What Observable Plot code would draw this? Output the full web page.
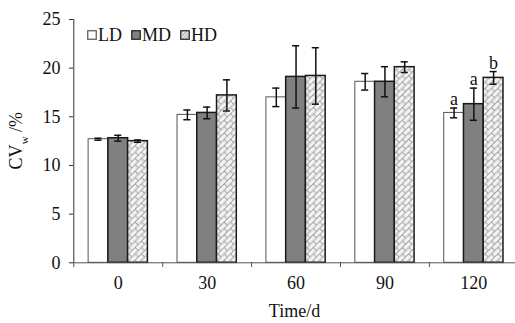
<!DOCTYPE html>
<html><head><meta charset="utf-8">
<script src="https://cdn.jsdelivr.net/npm/d3@7"></script>
<script src="https://cdn.jsdelivr.net/npm/@observablehq/plot@0.6"></script>
<style>
body{margin:0;background:#fff;}
#wrap{position:relative;width:515px;height:323px;font-family:"Liberation Serif","Times New Roman",serif;}
#wrap svg text{font-family:"Liberation Serif","Times New Roman",serif;}
#legend{position:absolute;left:87px;top:24px;display:flex;align-items:center;font-size:18px;color:#111;line-height:22px;}
#legend .item{display:flex;align-items:center;margin-right:9px;}
#legend svg{display:block;margin-right:1px;}
</style></head><body><div id="wrap"></div>
<script>
// ---- data ----
const times = [0, 30, 60, 90, 120];
const groups = ["LD", "MD", "HD"];
const ldMean = [12.7, 15.2, 17.0, 18.6, 15.4];
const ldErr  = [0.1, 0.5, 0.95, 0.85, 0.5];
const mdMean = [12.8, 15.4, 19.1, 18.6, 16.3];
const mdErr  = [0.3, 0.6, 3.2, 1.55, 1.65];
const hdMean = [12.5, 17.2, 19.2, 20.1, 19.0];
const hdErr  = [0.12, 1.6, 2.9, 0.55, 0.65];
const letters120 = ["a", "a", "b"];
const yTicks = [0, 5, 10, 15, 20, 25];

const means = [ldMean, mdMean, hdMean];
const errs = [ldErr, mdErr, hdErr];
const rows = [];
groups.forEach((g, gi) => times.forEach((t, ti) => rows.push({
  time: t, group: g, gi, mean: means[gi][ti], err: errs[gi][ti],
  letter: t === 120 ? letters120[gi] : ""
})));

const groupSpan = 20;               // days covered by one group of bars
const barW = groupSpan / groups.length;
const xc = d => d.time + (d.gi - (groups.length - 1) / 2) * barW;

const NS = "http://www.w3.org/2000/svg";
const defs = () => {
  const d = document.createElementNS(NS, "defs");
  d.innerHTML = `<pattern id="hdPat" patternUnits="userSpaceOnUse" width="9" height="9" patternTransform="rotate(-45)">
    <rect width="9" height="9" fill="#f3f3f3"/>
    <path d="M0 0.5H9M0 5H9M1.5 0.5V5M6 5V9.5" stroke="#8f8f8f" stroke-width="0.8" fill="none"/>
  </pattern>`;
  return d;
};
const ylab = (index, scales) => {
  const t = document.createElementNS(NS, "text");
  const cy = (scales.y(0) + scales.y(25)) / 2;
  t.setAttribute("transform", `translate(22,${cy}) rotate(-90)`);
  t.setAttribute("text-anchor", "middle");
  t.setAttribute("font-size", "18");
  t.setAttribute("fill", "#111");
  t.innerHTML = 'CV<tspan baseline-shift="sub" font-size="11">w</tspan> /%';
  return t;
};

const barStyle = [
  {fill: "white", stroke: "#555", strokeWidth: 1},
  {fill: "#808080", stroke: "#1a1a1a", strokeWidth: 1.5},
  {fill: "url(#hdPat)", stroke: "#1a1a1a", strokeWidth: 1.5}
];

const chart = Plot.plot({
  width: 515, height: 323,
  marginLeft: 73, marginRight: 0, marginTop: 19, marginBottom: 61,
  style: {fontFamily: "'Liberation Serif', 'Times New Roman', serif", fontSize: "18px", color: "#111", background: "white"},
  x: {domain: [-15, 135], range: [73.3, 517.8]},
  y: {domain: [0, 25], range: [262.3, 19]},
  marks: [
    defs,
    ...groups.map((g, gi) => Plot.rectY(rows.filter(d => d.gi === gi), {
      x1: d => xc(d) - barW / 2, x2: d => xc(d) + barW / 2, y1: 0, y2: "mean", ...barStyle[gi]
    })),
    Plot.ruleX(rows, {x: xc, y1: d => d.mean - d.err, y2: d => d.mean + d.err, stroke: "#111", strokeWidth: 1.5}),
    Plot.ruleY(rows, {y: d => d.mean + d.err, x1: d => xc(d) - 1.2, x2: d => xc(d) + 1.2, stroke: "#111", strokeWidth: 1.5}),
    Plot.ruleY(rows, {y: d => d.mean - d.err, x1: d => xc(d) - 1.2, x2: d => xc(d) + 1.2, stroke: "#111", strokeWidth: 1.5}),
    Plot.text(rows.filter(d => d.letter), {x: xc, y: d => d.mean + d.err, text: "letter", lineAnchor: "bottom", dy: -3, fontSize: 18, fill: "#111"}),
    Plot.ruleY([0], {stroke: "#555"}),
    Plot.ruleX([-15], {stroke: "#333"}),
    Plot.axisY({ticks: yTicks, tickSize: 4, tickPadding: 9, fontSize: 18, label: null, stroke: "#333"}),
    Plot.axisX({ticks: times, tickSize: 0, tickPadding: 14, fontSize: 18, label: null}),
    Plot.axisX({ticks: times.map(t => t - 15), tickSize: 5, tickFormat: () => "", label: null, stroke: "#555"}),
    Plot.text(["Time/d"], {frameAnchor: "bottom", dy: 49, lineAnchor: "middle", fontSize: 18, fill: "#111"}),
    ylab
  ]
});
const wrap = document.getElementById("wrap");
wrap.appendChild(chart);

// legend
const lg = document.createElement("div");
lg.id = "legend";
const swFill = ["#fff", "#808080", "url(#hdPatL)"];
const swStroke = ["#555", "#1a1a1a", "#1a1a1a"];
groups.forEach((g, gi) => {
  const it = document.createElement("div");
  it.className = "item";
  it.innerHTML = `<svg width="10" height="10">${gi === 2 ? `<defs><pattern id="hdPatL" patternUnits="userSpaceOnUse" width="5" height="5" patternTransform="rotate(-45)"><rect width="5" height="5" fill="#f1f1f1"/><path d="M0 0.5H5M0 3H5" stroke="#8a8a8a" stroke-width="0.8"/></pattern></defs>` : ""}<rect x="0.75" y="0.75" width="8.5" height="8.5" fill="${swFill[gi]}" stroke="${swStroke[gi]}" stroke-width="1.2"/></svg><span>${g}</span>`;
  lg.appendChild(it);
});
wrap.appendChild(lg);
</script></body></html>
